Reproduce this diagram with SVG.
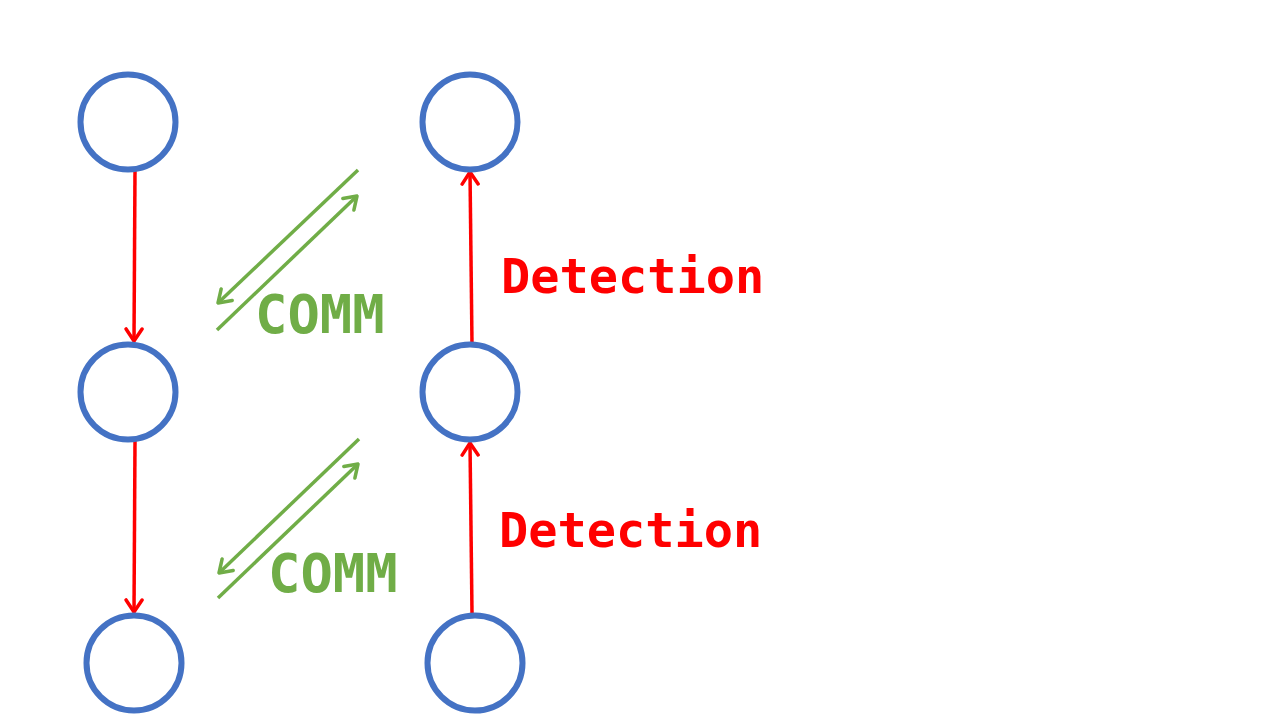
<svg xmlns="http://www.w3.org/2000/svg" width="1280" height="720" viewBox="0 0 1280 720">
<defs>
<style>
.node{fill:none;stroke:#4472C4;stroke-width:6}
.red{stroke:#FF0000;stroke-width:3.5;fill:none}
.green{stroke:#70AD47;stroke-width:3.5;fill:none}
.det{font-family:"DejaVu Sans Mono","Liberation Mono",monospace;font-weight:bold;font-size:48.6px;fill:#FF0000}
.comm{font-family:"DejaVu Sans Mono","Liberation Mono",monospace;font-weight:bold;font-size:53.8px;fill:#70AD47}
</style>
<marker id="ar" markerUnits="userSpaceOnUse" viewBox="-14 -10 16 20" markerWidth="16" markerHeight="20" refX="0" refY="0" orient="auto">
<path d="M-12,-8 L0,0 L-12,8" fill="none" stroke="#FF0000" stroke-width="3.5" stroke-linecap="round" stroke-linejoin="round"/>
</marker>
<marker id="ag" markerUnits="userSpaceOnUse" viewBox="-14 -10 16 20" markerWidth="16" markerHeight="20" refX="0" refY="0" orient="auto">
<path d="M-12,-8 L0,0 L-12,8" fill="none" stroke="#70AD47" stroke-width="3.5" stroke-linecap="round" stroke-linejoin="round"/>
</marker>
</defs>
<rect width="1280" height="720" fill="#FFFFFF"/>
<g id="connectors">
<line class="red" x1="135" y1="170" x2="134" y2="341" marker-end="url(#ar)"/>
<line class="red" x1="135" y1="441" x2="134" y2="612" marker-end="url(#ar)"/>
<line class="red" x1="472" y1="613" x2="470" y2="443" marker-end="url(#ar)"/>
<line class="red" x1="472" y1="344" x2="470" y2="172" marker-end="url(#ar)"/>
<line class="green" x1="358" y1="170" x2="218" y2="303" marker-end="url(#ag)"/>
<line class="green" x1="217" y1="330" x2="357" y2="196" marker-end="url(#ag)"/>
<line class="green" x1="359" y1="439" x2="219" y2="573" marker-end="url(#ag)"/>
<line class="green" x1="218" y1="598" x2="358" y2="464" marker-end="url(#ag)"/>
</g>
<g id="n1"><circle class="node" cx="128" cy="122" r="47.5"/></g>
<g id="n2"><circle class="node" cx="128" cy="392" r="47.5"/></g>
<g id="n3"><circle class="node" cx="134" cy="663" r="47.5"/></g>
<g id="n4"><circle class="node" cx="470" cy="122" r="47.5"/></g>
<g id="n5"><circle class="node" cx="470" cy="392" r="47.5"/></g>
<g id="n6"><circle class="node" cx="475" cy="663" r="47.5"/></g>
<g id="labels">
<text class="det" x="501" y="293">Detection</text>
<text class="det" x="499" y="547">Detection</text>
<text class="comm" x="255" y="333">COMM</text>
<text class="comm" x="268" y="592">COMM</text>
</g>
</svg>
